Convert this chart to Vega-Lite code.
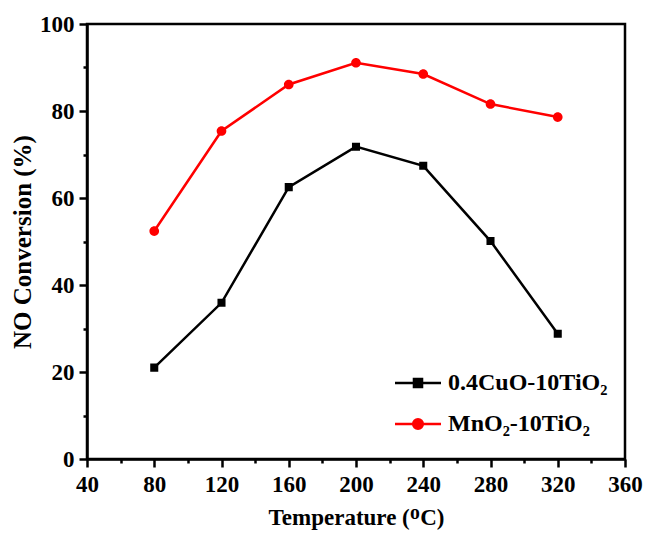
{
  "$schema": "https://vega.github.io/schema/vega-lite/v6.json",
  "width": 538,
  "height": 435,
  "autosize": {"type": "none"},
  "padding": {"left": 87, "top": 24, "right": 21, "bottom": 80},
  "background": "white",
  "config": {
    "view": {"stroke": "black", "strokeWidth": 2.5},
    "font": "Liberation Serif",
    "axis": {
      "grid": false,
      "domainColor": "black",
      "domainWidth": 2.5,
      "tickColor": "black",
      "tickWidth": 2.5,
      "labelColor": "black",
      "labelFont": "Liberation Serif",
      "labelFontSize": 23,
      "labelFontWeight": "bold",
      "labelFlush": false,
      "labelOverlap": false,
      "titleColor": "black",
      "titleFont": "Liberation Serif",
      "titleFontSize": 23,
      "titleFontWeight": "bold"
    },
    "legend": {
      "orient": "none",
      "legendX": 318,
      "legendY": 346,
      "padding": 0,
      "labelFont": "Liberation Serif",
      "labelFontSize": 24,
      "labelFontWeight": "bold",
      "labelColor": "black",
      "labelOffset": 17,
      "rowPadding": 16,
      "symbolSize": 529,
      "symbolStrokeWidth": 2.5
    }
  },
  "data": {
    "values": [
      {"T": 80, "conv": 21.0, "s": "0.4CuO-10TiO₂"},
      {"T": 120, "conv": 35.9, "s": "0.4CuO-10TiO₂"},
      {"T": 160, "conv": 62.5, "s": "0.4CuO-10TiO₂"},
      {"T": 200, "conv": 71.8, "s": "0.4CuO-10TiO₂"},
      {"T": 240, "conv": 67.4, "s": "0.4CuO-10TiO₂"},
      {"T": 280, "conv": 50.1, "s": "0.4CuO-10TiO₂"},
      {"T": 320, "conv": 28.8, "s": "0.4CuO-10TiO₂"},
      {"T": 80, "conv": 52.4, "s": "MnO₂-10TiO₂"},
      {"T": 120, "conv": 75.4, "s": "MnO₂-10TiO₂"},
      {"T": 160, "conv": 86.1, "s": "MnO₂-10TiO₂"},
      {"T": 200, "conv": 91.1, "s": "MnO₂-10TiO₂"},
      {"T": 240, "conv": 88.5, "s": "MnO₂-10TiO₂"},
      {"T": 280, "conv": 81.6, "s": "MnO₂-10TiO₂"},
      {"T": 320, "conv": 78.6, "s": "MnO₂-10TiO₂"}
    ]
  },
  "encoding": {
    "x": {
      "field": "T",
      "type": "quantitative",
      "scale": {"domain": [40, 360], "nice": false, "zero": false},
      "axis": {
        "title": "Temperature (ᴼC)",
        "values": [40, 60, 80, 100, 120, 140, 160, 180, 200, 220, 240, 260, 280, 300, 320, 340, 360],
        "labelExpr": "datum.value % 40 == 0 ? datum.label : ''",
        "tickSize": {"condition": {"test": "datum.value % 40 == 0", "value": 8}, "value": 4},
        "labelPadding": 6,
        "titlePadding": 10
      }
    },
    "y": {
      "field": "conv",
      "type": "quantitative",
      "scale": {"domain": [0, 100], "nice": false},
      "axis": {
        "title": "NO Conversion (%)",
        "titleFontSize": 25,
        "values": [0, 10, 20, 30, 40, 50, 60, 70, 80, 90, 100],
        "labelExpr": "datum.value % 20 == 0 ? datum.label : ''",
        "tickSize": {"condition": {"test": "datum.value % 20 == 0", "value": 8}, "value": 4},
        "labelPadding": 5,
        "titlePadding": 4
      }
    },
    "color": {
      "field": "s",
      "type": "nominal",
      "scale": {"domain": ["0.4CuO-10TiO₂", "MnO₂-10TiO₂"], "range": ["#000000", "#ff0000"]},
      "legend": {"title": null}
    }
  },
  "layer": [
    {
      "mark": {"type": "line", "strokeWidth": 2.5}
    },
    {
      "mark": {"type": "point", "filled": true, "opacity": 1, "strokeWidth": 2.5, "size": 529},
      "encoding": {
        "stroke": {
          "field": "s",
          "type": "nominal",
          "scale": {"domain": ["0.4CuO-10TiO₂", "MnO₂-10TiO₂"], "range": ["#000000", "#ff0000"]},
          "legend": {"title": null}
        },
        "strokeOpacity": {"value": 0},
        "shape": {
          "field": "s",
          "type": "nominal",
          "scale": {"domain": ["0.4CuO-10TiO₂", "MnO₂-10TiO₂"], "range": ["M-2,0H2M-0.35,-0.35H0.35V0.35H-0.35Z", "M-2,0H2M0.42,0A0.42,0.42 0 1,1 -0.42,0A0.42,0.42 0 1,1 0.42,0Z"]},
          "legend": {"title": null}
        }
      }
    }
  ]
}
